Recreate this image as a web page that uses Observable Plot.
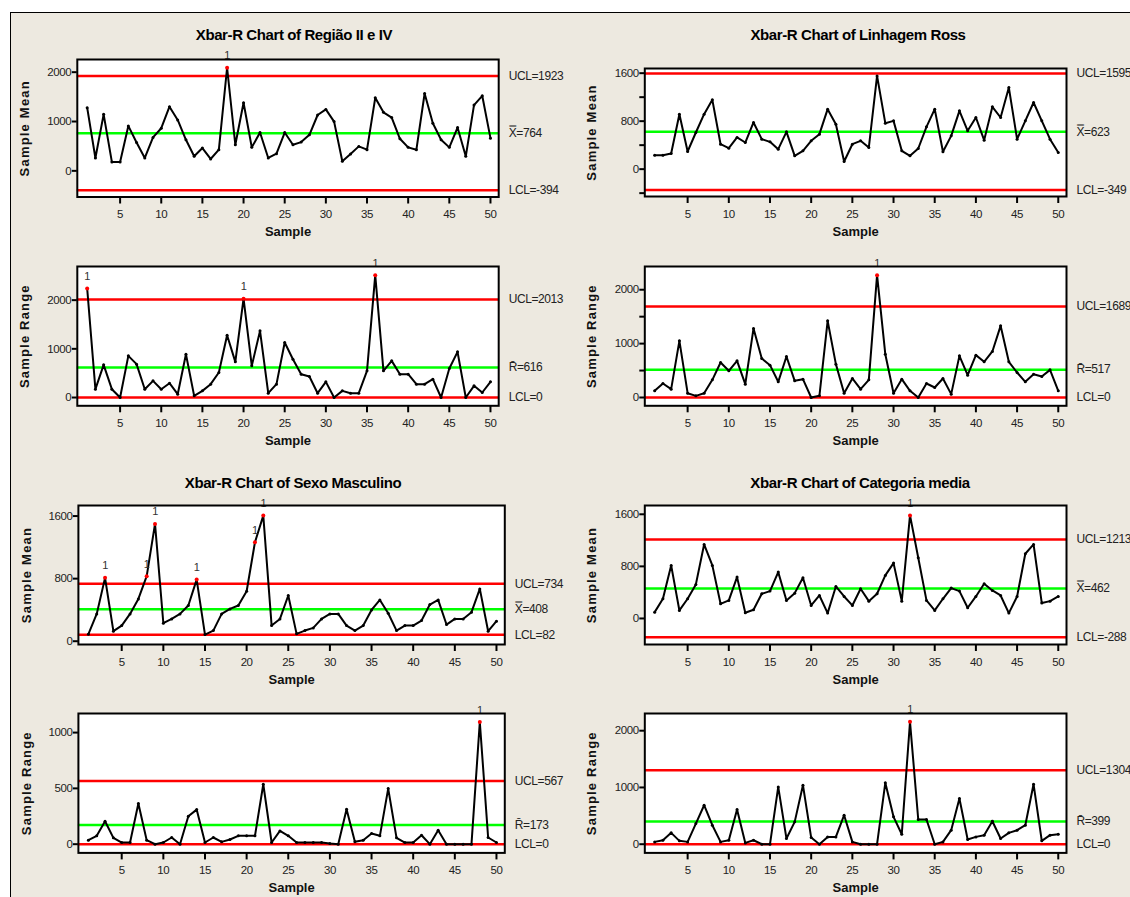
<!DOCTYPE html>
<html><head><meta charset="utf-8">
<script src="https://cdn.jsdelivr.net/npm/d3@7"></script>
<script src="https://cdn.jsdelivr.net/npm/@observablehq/plot@0.6"></script>
<style>
body{margin:0;background:#fff;}
#fig{position:relative;width:1130px;height:897px;background:#fff;overflow:hidden;font-family:"Liberation Sans",Arial,sans-serif;}
#bg{position:absolute;left:10px;top:12px;right:0;bottom:0;background:#EDE9E0;border-left:1.7px solid #000;border-top:1.7px solid #000;}
.title{position:absolute;font-weight:bold;font-size:15px;letter-spacing:-0.4px;transform:translate(-50%,-50%);white-space:nowrap;color:#000;}
</style></head><body><div id="fig"><div id="bg"></div></div>
<script>
const sample = [1,2,3,4,5,6,7,8,9,10,11,12,13,14,15,16,17,18,19,20,21,22,23,24,25,26,27,28,29,30,31,32,33,34,35,36,37,38,39,40,41,42,43,44,45,46,47,48,49,50];
const xTicks = [5,10,15,20,25,30,35,40,45,50];

const titles = ["Xbar-R Chart of Região II e IV","Xbar-R Chart of Linhagem Ross","Xbar-R Chart of Sexo Masculino","Xbar-R Chart of Categoria media"];

const regiaoMean = [1280,261,1146,181,181,911,576,261,677,864,1300,1032,630,295,462,241,429,2090,529,1380,476,777,261,348,777,529,583,730,1132,1246,998,194,342,496,429,1481,1186,1079,650,476,429,1568,965,630,476,878,295,1333,1521,663];
const regiaoRange = [2239,171,671,171,0,856,685,171,342,171,294,68,890,34,137,274,514,1280,733,2030,650,1369,89,274,1130,787,479,431,89,322,0,137,89,89,548,2513,548,753,479,479,274,274,377,0,596,938,0,240,103,322];
const rossMean = [233,233,261,916,294,611,916,1155,416,350,528,444,778,500,455,333,622,222,305,472,583,1000,750,128,416,472,361,1555,766,805,305,222,344,705,1000,289,555,972,639,861,483,1039,861,1360,500,805,1111,805,500,278];
const rossRange = [124,260,155,1052,80,31,80,328,650,495,680,247,1281,724,600,291,761,309,340,0,31,1423,619,80,353,155,328,2270,804,80,340,124,0,260,186,353,62,773,415,786,662,854,1330,662,464,291,433,390,513,124];
const sexoMean = [90,349,810,128,200,349,541,831,1500,230,285,349,456,788,85,136,349,413,456,639,1265,1606,200,285,584,94,136,170,285,349,349,200,136,200,400,528,358,136,200,200,264,469,528,213,285,285,371,669,128,256];
const sexoRange = [36,75,206,57,15,15,364,36,0,15,60,0,251,310,15,60,21,42,75,75,75,537,15,119,75,15,15,15,15,6,0,313,21,36,95,75,498,57,15,15,80,0,125,0,0,0,0,1095,60,15];
const catMean = [97,302,815,123,302,523,1137,815,225,277,635,87,133,379,420,712,277,389,625,200,353,82,492,338,200,456,266,379,661,850,266,1583,932,277,123,302,466,420,164,338,533,430,353,82,338,994,1137,236,266,338];
const catRange = [41,70,200,59,41,364,687,335,41,70,611,23,70,0,0,1010,100,394,1040,117,0,129,129,511,41,0,0,0,1081,482,176,2156,435,435,0,41,247,805,82,129,159,405,100,200,247,335,1057,59,159,176];

// control limits [UCL, center, LCL]
const regiaoMeanLimits = [1923, 764, -394];
const regiaoRangeLimits = [2013, 616, 0];
const rossMeanLimits = [1595, 623, -349];
const rossRangeLimits = [1689, 517, 0];
const sexoMeanLimits = [734, 408, 82];
const sexoRangeLimits = [567, 173, 0];
const catMeanLimits = [1213, 462, -288];
const catRangeLimits = [1304, 399, 0];

const meanLabelPrefix = ["UCL=", "X\u033F=", "LCL="];
const rangeLabelPrefix = ["UCL=", "R\u0304=", "LCL="];

const fig = document.getElementById("fig");
const FONT = "Liberation Sans, Arial, sans-serif";
const plain = d => `${d}`;

function panel(o) {
  const [ucl, cl, lcl] = o.limits;
  const data = o.values.map((v, i) => ({x: sample[i], y: v, out: v > ucl || v < lcl}));
  const labelRows = o.limits.map((v, i) => ({value: v, label: o.prefix[i] + v}));
  const xDomain = [-0.2, 51];
  const mt = 30, mb = 50;
  const f = o.frame;
  const height = f.bottom - f.top + mt + mb;
  const plot = Plot.plot({
    width: o.svgWidth, height,
    marginLeft: f.left - o.svgLeft, marginRight: o.svgLeft + o.svgWidth - f.right,
    marginTop: mt, marginBottom: mb,
    style: {background: "transparent", overflow: "visible", fontFamily: FONT, letterSpacing: "-0.4px", color: "#000"},
    x: {domain: xDomain},
    y: {domain: o.yDomain},
    marks: [
      Plot.frame({fill: "white"}),
      Plot.ruleY([ucl, lcl], {stroke: "#FF0000", strokeWidth: 2.5}),
      Plot.ruleY([cl], {stroke: "#00FF00", strokeWidth: 2.5}),
      Plot.line(data, {x: "x", y: "y", stroke: "black", strokeWidth: 2}),
      Plot.dot(data.filter(d => !d.out), {x: "x", y: "y", r: 1.5, fill: "black"}),
      Plot.dot(data.filter(d => d.out), {x: "x", y: "y", r: 2, fill: "#FF0000"}),
      Plot.text(data.filter(d => d.out), {x: "x", y: "y", text: () => "1", dy: -12, fontSize: 11, fill: "#333"}),
      Plot.text(labelRows, {x: xDomain[1], y: "value", text: "label", dx: 10, textAnchor: "start", fontSize: 12, fill: "#222"}),
      Plot.axisX(xTicks, {tickSize: 7, tickPadding: 6, fontSize: 11.5, strokeWidth: 2, label: null, fill: "#222", tickFormat: plain}),
      Plot.axisY(o.yTicks, {tickSize: 5, tickPadding: 1, fontSize: 11.5, strokeWidth: 2, label: null, fill: "#222", tickFormat: plain}),
      o.yMinor ? Plot.axisY(o.yMinor, {tickSize: 5, tickFormat: () => "", strokeWidth: 2, label: null}) : null,
      Plot.text([o.yLabel], {frameAnchor: "left", rotate: -90, dx: o.yLabelDx, text: d => d, textAnchor: "middle", lineAnchor: "middle", fontWeight: "bold", fontSize: 13, fill: "#111"}),
      Plot.text(["Sample"], {frameAnchor: "bottom", dy: 35, text: d => d, textAnchor: "middle", lineAnchor: "middle", fontWeight: "bold", fontSize: 13, fill: "#111"}),
      Plot.frame({stroke: "black", strokeWidth: 2})
    ]
  });
  plot.style.position = "absolute";
  plot.style.left = o.svgLeft + "px";
  plot.style.top = (f.top - mt) + "px";
  d3.select(plot).selectAll("text").filter(function() { return this.textContent === o.yLabel; })
    .style("letter-spacing", "1.2px");
  d3.select(plot).selectAll("text").filter(function() { return this.textContent === "Sample"; })
    .style("letter-spacing", "0px");
  fig.appendChild(plot);
}

function title(text, x, y) {
  const d = document.createElement("div");
  d.className = "title";
  d.textContent = text;
  d.style.left = x + "px";
  d.style.top = y + "px";
  fig.appendChild(d);
}

const L = {svgLeft: 0, svgWidth: 565, yLabelDx: -52};
const R = {svgLeft: 565, svgWidth: 565, yLabelDx: -53};

title(titles[0], 294, 34);
title(titles[1], 858, 34);
title(titles[2], 293, 482);
title(titles[3], 860, 482);

panel({...L, values: regiaoMean, limits: regiaoMeanLimits, prefix: meanLabelPrefix, yLabel: "Sample Mean",
  yTicks: [0, 1000, 2000], yDomain: [-530, 2257], frame: {left: 76.8, right: 498.2, top: 58.5, bottom: 196}});
panel({...L, values: regiaoRange, limits: regiaoRangeLimits, prefix: rangeLabelPrefix, yLabel: "Sample Range",
  yTicks: [0, 1000, 2000], yDomain: [-170, 2691], frame: {left: 76.8, right: 498.2, top: 265.7, bottom: 405}});
panel({...R, values: rossMean, limits: rossMeanLimits, prefix: meanLabelPrefix, yLabel: "Sample Mean",
  yTicks: [0, 800, 1600], yMinor: [-400, 400, 1200], yDomain: [-456, 1678], frame: {left: 644.3, right: 1066, top: 67.7, bottom: 195.7}});
panel({...R, values: rossRange, limits: rossRangeLimits, prefix: rangeLabelPrefix, yLabel: "Sample Range",
  yTicks: [0, 1000, 2000], yMinor: [500, 1500], yDomain: [-154, 2431], frame: {left: 644.3, right: 1066, top: 265.7, bottom: 405}});
panel({...L, values: sexoMean, limits: sexoMeanLimits, prefix: meanLabelPrefix, yLabel: "Sample Mean",
  yTicks: [0, 800, 1600], yDomain: [-42, 1735], frame: {left: 77.9, right: 504.3, top: 505, bottom: 644}});
panel({...L, values: sexoRange, limits: sexoRangeLimits, prefix: rangeLabelPrefix, yLabel: "Sample Range",
  yTicks: [0, 500, 1000], yDomain: [-78, 1171], frame: {left: 77.9, right: 504.3, top: 713.3, bottom: 852.7}});
panel({...R, values: catMean, limits: catMeanLimits, prefix: meanLabelPrefix, yLabel: "Sample Mean",
  yTicks: [0, 800, 1600], yDomain: [-400, 1735], frame: {left: 644.3, right: 1066, top: 505, bottom: 644}});
panel({...R, values: catRange, limits: catRangeLimits, prefix: rangeLabelPrefix, yLabel: "Sample Range",
  yTicks: [0, 1000, 2000], yDomain: [-153, 2303], frame: {left: 644.3, right: 1066, top: 713.3, bottom: 852.7}});
</script></body></html>
